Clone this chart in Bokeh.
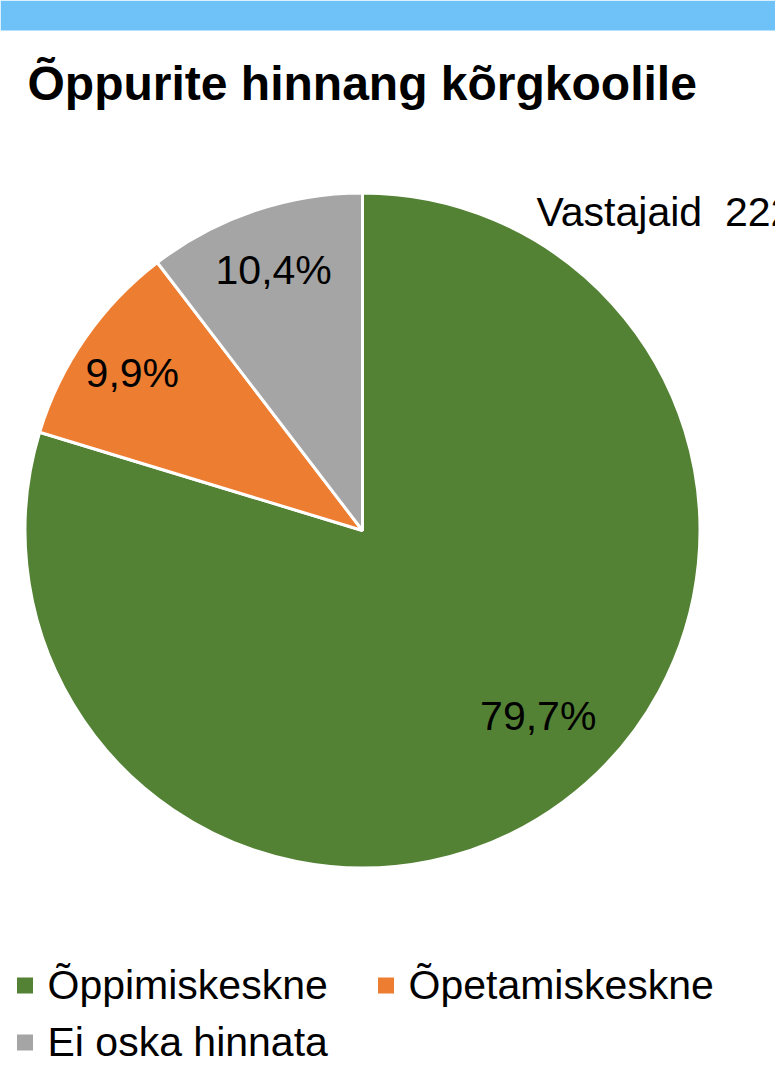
import math
from bokeh.plotting import figure
from bokeh.models import Range1d, ColumnDataSource
from bokeh.core.properties import value
from bokeh.embed import file_html
from bokeh.resources import INLINE

# ---- data ----
title_text = "Õppurite hinnang kõrgkoolile"
note_text = "Vastajaid\u00a0\u00a0222"
categories = ["Õppimiskeskne", "Õpetamiskeskne", "Ei oska hinnata"]
shares = [79.7, 9.9, 10.4]
labels = ["79,7%", "9,9%", "10,4%"]
colors = ["#548235", "#ED7D31", "#A5A5A5"]

# ---- layout (picture pixel coordinates; y data = H - picture y) ----
W, H = 775, 1065
FONT = "Liberation Sans"
TSHIFT = 12  # text renders slightly lower than its baseline; compensate

def py(y):
    return H - y

def ty(y):
    return H - y + TSHIFT

p = figure(width=W, height=H, output_backend="svg", toolbar_location=None,
           x_range=Range1d(0, W), y_range=Range1d(0, H), min_border=0)
p.axis.visible = False
p.grid.visible = False
p.outline_line_color = None
p.background_fill_color = "white"
p.border_fill_color = "white"

# top band
p.quad(left=[0], right=[W], bottom=[py(30)], top=[py(0)],
       fill_color="#6EC2F7", line_color=None)

# title
p.text(x=[27], y=[ty(95)], text=[title_text], text_font=value(FONT),
       text_font_size="48px", text_font_style="bold", text_color="black",
       text_baseline="alphabetic", text_align="left")

# pie
cx, cy, R = 362, py(530), 337.5
total = sum(shares)
starts, ends, mids = [], [], []
acc = 0.0
for s in shares:
    a_end = math.radians(90 - acc / total * 360)
    acc += s
    a_start = math.radians(90 - acc / total * 360)
    starts.append(a_start)
    ends.append(a_end)
    mids.append((a_start + a_end) / 2)

src = ColumnDataSource(dict(start=starts, end=ends, color=colors, cat=categories))
p.wedge(x=cx, y=cy, radius=R, start_angle="start", end_angle="end",
        fill_color="color", line_color="white", line_width=3, source=src)

# data labels (mid-angle placement, baseline 14px under the label centre)
lab_r = [0.765, 0.83, 0.82]
nudge = [(22, 24), (0, 0), (0, 0)]
lx = [cx + lab_r[i] * R * math.cos(mids[i]) + nudge[i][0] for i in range(3)]
ly = [cy + lab_r[i] * R * math.sin(mids[i]) + nudge[i][1] - 14 + TSHIFT for i in range(3)]
p.text(x=lx, y=ly, text=labels, text_font=value(FONT), text_font_size="41px",
       text_color="black", text_align="center", text_baseline="alphabetic")

# respondents note
p.text(x=[536], y=[ty(223)], text=[note_text], text_font=value(FONT),
       text_font_size="41px", text_color="black", text_align="left",
       text_baseline="alphabetic")

# legend
leg_x = [16, 377, 16]
leg_base = [996, 996, 1053]
p.rect(x=[x + 8.5 for x in leg_x], y=[py(b - 11) for b in leg_base],
       width=16, height=16, fill_color=colors, line_color=None)
p.text(x=[x + 31 for x in leg_x], y=[ty(b) for b in leg_base], text=categories,
       text_font=value(FONT), text_font_size="41px", text_color="black",
       text_align="left", text_baseline="alphabetic")

open("out.html", "w").write(file_html(p, INLINE))
